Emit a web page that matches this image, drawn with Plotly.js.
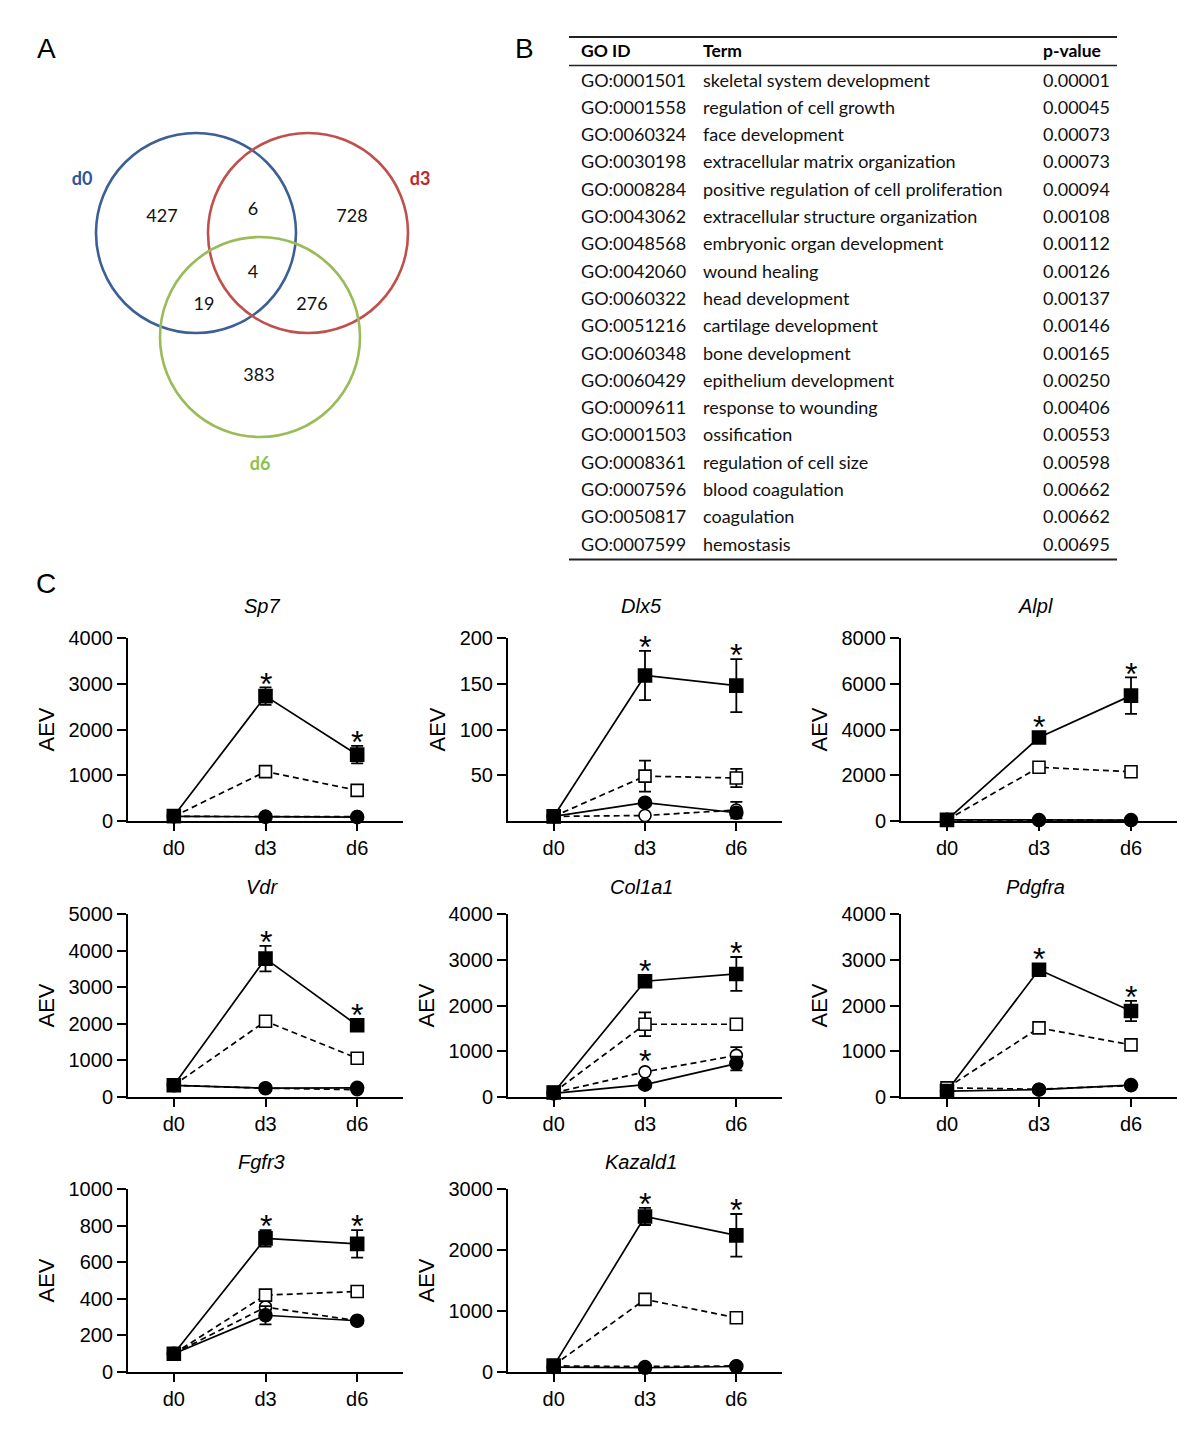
<!DOCTYPE html>
<html><head><meta charset="utf-8">
<script src="https://cdn.plot.ly/plotly-3.0.1.min.js"></script>
<style>html,body{margin:0;padding:0;background:#fff}#chart{width:1200px;height:1433px}</style>
</head><body><div id="chart"></div>
<script>
// ---------- Panel A: Venn data ----------
const vennSets = ['d0', 'd3', 'd6'];
const vennRegions = ['d0 only', 'd0&d3', 'd3 only', 'd0&d6', 'all', 'd3&d6', 'd6 only'];
const vennCounts = [427, 6, 728, 19, 4, 276, 383];

// ---------- Panel B: GO table ----------
const goHeader = ['GO ID', 'Term', 'p-value'];
const goIds = ['GO:0001501','GO:0001558','GO:0060324','GO:0030198','GO:0008284','GO:0043062','GO:0048568','GO:0042060','GO:0060322','GO:0051216','GO:0060348','GO:0060429','GO:0009611','GO:0001503','GO:0008361','GO:0007596','GO:0050817','GO:0007599'];
const goTerms = ['skeletal system development','regulation of cell growth','face development','extracellular matrix organization','positive regulation of cell proliferation','extracellular structure organization','embryonic organ development','wound healing','head development','cartilage development','bone development','epithelium development','response to wounding','ossification','regulation of cell size','blood coagulation','coagulation','hemostasis'];
const goPvalues = ['0.00001','0.00045','0.00073','0.00073','0.00094','0.00108','0.00112','0.00126','0.00137','0.00146','0.00165','0.00250','0.00406','0.00553','0.00598','0.00662','0.00662','0.00695'];

// ---------- Panel C: expression data ----------
const days = ['d0', 'd3', 'd6'];
const genes = ['Sp7', 'Dlx5', 'Alpl', 'Vdr', 'Col1a1', 'Pdgfra', 'Fgfr3', 'Kazald1'];
// series order: filled square (solid), open square (dashed), filled circle (solid), open circle (dashed)
const sp7Mean = [[110,2730,1450],[100,1080,670],[100,90,85],[100,100,95]];
const sp7Err  = [[30,190,190],[0,60,40],[0,0,0],[0,0,0]];
const sp7Sig  = [[0,1,1],[0,0,0],[0,0,0],[0,0,0]];
const sp7Ticks = [0,1000,2000,3000,4000];

const dlx5Mean = [[5,159,148],[5,49,47],[5,20,9],[5,6,12]];
const dlx5Err  = [[0,27,29],[0,17,10],[0,2,2],[0,1,9]];
const dlx5Sig  = [[0,1,1],[0,0,0],[0,0,0],[0,0,0]];
const dlx5Ticks = [50,100,150,200];

const alplMean = [[50,3650,5480],[50,2350,2150],[50,40,40],[50,30,30]];
const alplErr  = [[0,150,800],[0,100,80],[0,0,0],[0,0,0]];
const alplSig  = [[0,1,1],[0,0,0],[0,0,0],[0,0,0]];
const alplTicks = [0,2000,4000,6000,8000];

const vdrMean = [[320,3780,1960],[320,2070,1060],[320,240,250],[320,240,200]];
const vdrErr  = [[0,350,150],[0,80,60],[0,0,0],[0,0,0]];
const vdrSig  = [[0,1,1],[0,0,0],[0,0,0],[0,0,0]];
const vdrTicks = [0,1000,2000,3000,4000,5000];

const col1a1Mean = [[100,2530,2690],[100,1590,1590],[80,270,730],[90,550,910]];
const col1a1Err  = [[0,80,370],[0,260,50],[0,30,150],[0,40,180]];
const col1a1Sig  = [[0,1,1],[0,0,0],[0,0,0],[0,1,0]];
const col1a1Ticks = [0,1000,2000,3000,4000];

const pdgfraMean = [[130,2780,1880],[200,1510,1140],[130,160,260],[200,170,250]];
const pdgfraErr  = [[0,80,220],[0,60,50],[0,0,0],[0,0,0]];
const pdgfraSig  = [[0,1,1],[0,0,0],[0,0,0],[0,0,0]];
const pdgfraTicks = [0,1000,2000,3000,4000];

const fgfr3Mean = [[100,730,700],[100,420,440],[100,310,280],[100,355,280]];
const fgfr3Err  = [[0,45,75],[0,15,30],[0,50,10],[0,15,10]];
const fgfr3Sig  = [[0,1,1],[0,0,0],[0,0,0],[0,0,0]];
const fgfr3Ticks = [0,200,400,600,800,1000];

const kazald1Mean = [[100,2550,2240],[110,1190,890],[80,70,90],[100,90,100]];
const kazald1Err  = [[0,140,350],[0,40,40],[0,0,0],[0,0,0]];
const kazald1Sig  = [[0,1,1],[0,0,0],[0,0,0],[0,0,0]];
const kazald1Ticks = [0,1000,2000,3000];

const allMeans = [sp7Mean, dlx5Mean, alplMean, vdrMean, col1a1Mean, pdgfraMean, fgfr3Mean, kazald1Mean];
const allErrs  = [sp7Err, dlx5Err, alplErr, vdrErr, col1a1Err, pdgfraErr, fgfr3Err, kazald1Err];
const allSigs  = [sp7Sig, dlx5Sig, alplSig, vdrSig, col1a1Sig, pdgfraSig, fgfr3Sig, kazald1Sig];
const allTicks = [sp7Ticks, dlx5Ticks, alplTicks, vdrTicks, col1a1Ticks, pdgfraTicks, fgfr3Ticks, kazald1Ticks];

// ---------- Layout helpers ----------
const W = 1200, H = 1433;
const PX = x => x / W;
const PY = y => 1 - y / H;
const FONT = 'Liberation Sans, Arial, sans-serif';
const CAL = 'Lato, Carlito, sans-serif';

const colPx = [[128,403],[508,782],[901,1177]];
const rowPx = [[638,821],[914,1097],[1189,1372]];
const titleGap = [32, 27, 27];

const seriesStyle = [
  {symbol:'square', fill:'#000', dash:'solid', size:13},
  {symbol:'square', fill:'#fff', dash:'6px,4px', size:12},
  {symbol:'circle', fill:'#000', dash:'solid', size:13},
  {symbol:'circle', fill:'#fff', dash:'6px,4px', size:12}
];
const drawOrder = [3,2,1,0];

const traces = [];
const layout = {
  width: W, height: H,
  margin: {l:0, r:0, t:0, b:0},
  paper_bgcolor: '#fff', plot_bgcolor: 'rgba(0,0,0,0)',
  showlegend: false,
  font: {family: FONT, color: '#000'},
  shapes: [], annotations: []
};

const STAR = 32;
genes.forEach((g, k) => {
  const id = k + 1;
  const xs = id === 1 ? 'x' : 'x' + id;
  const ys = id === 1 ? 'y' : 'y' + id;
  const col = colPx[k % 3], rIdx = Math.floor(k / 3), row = rowPx[rIdx];
  const ticks = allTicks[k];
  const yTop = ticks[ticks.length - 1];
  const pxPerUnit = (row[1] - row[0]) / yTop;
  layout['xaxis' + (id === 1 ? '' : id)] = {
    domain: [PX(col[0]), PX(col[1])], anchor: ys,
    range: [-0.5, 2.5], tickmode: 'array', tickvals: [0,1,2], ticktext: days,
    showline: true, linewidth: 2, linecolor: '#000', ticks: 'outside', ticklen: 8, tickwidth: 2, tickcolor: '#000',
    showgrid: false, zeroline: false, tickfont: {family: FONT, size: 20, color: '#000'}, fixedrange: true
  };
  layout['yaxis' + (id === 1 ? '' : id)] = {
    domain: [PY(row[1]), PY(row[0])], anchor: xs,
    range: [0, yTop], tickmode: 'array', tickvals: ticks, ticktext: ticks.map(String),
    showline: true, linewidth: 2, linecolor: '#000', ticks: 'outside', ticklen: 9, tickwidth: 2, tickcolor: '#000',
    showgrid: false, zeroline: false, tickfont: {family: FONT, size: 20, color: '#000'}, fixedrange: true,
    title: {text: 'AEV', font: {family: FONT, size: 22, color: '#000'}, standoff: 8}
  };
  drawOrder.forEach(s => {
    const st = seriesStyle[s];
    traces.push({
      type: 'scatter', mode: 'lines+markers', xaxis: xs, yaxis: ys,
      x: [0,1,2], y: allMeans[k][s], cliponaxis: false,
      line: {color: '#000', width: 1.7, dash: st.dash},
      marker: {symbol: st.symbol, size: st.size, color: st.fill, line: {color: '#000', width: 1.6}},
      error_y: {type: 'data', array: allErrs[k][s], visible: true, color: '#000', thickness: 1.8, width: 6},
      hoverinfo: 'skip'
    });
  });
  // significance asterisks, placed just above the error bar (or the marker if the bar is hidden)
  allSigs[k].forEach((sigRow, s) => sigRow.forEach((flag, i) => {
    if (!flag) return;
    const errPx = allErrs[k][s][i] * pxPerUnit;
    const extra = Math.max(0, 7 - errPx);
    layout.annotations.push({
      xref: xs, yref: ys, x: i, y: allMeans[k][s][i] + allErrs[k][s][i],
      text: '*', showarrow: false, yanchor: 'bottom', yshift: 10 + extra - (0.79 * STAR + 1),
      font: {family: FONT, size: STAR, color: '#000'}
    });
  }));
  // gene title
  layout.annotations.push({
    xref: 'paper', yref: 'paper', x: PX((col[0] + col[1]) / 2 - 4), y: PY(row[0] - titleGap[rIdx]),
    text: '<i>' + g + '</i>', showarrow: false, xanchor: 'center', yanchor: 'middle',
    font: {family: FONT, size: 20, color: '#000'}
  });
});

// ---------- Venn (panel A) on its own pixel-unit axis ----------
layout.xaxis9 = {domain: [0, PX(500)], range: [0, 500], visible: false, fixedrange: true, anchor: 'y9'};
layout.yaxis9 = {domain: [PY(500), PY(100)], range: [500, 100], visible: false, fixedrange: true, anchor: 'x9'};
const vennCircles = [
  {cx: 196, cy: 233, r: 100, color: '#3C6096'},
  {cx: 308, cy: 233, r: 100, color: '#C0504D'},
  {cx: 260, cy: 337, r: 100, color: '#9BBB59'}
];
vennCircles.forEach(c => layout.shapes.push({
  type: 'circle', xref: 'x9', yref: 'y9', x0: c.cx - c.r, x1: c.cx + c.r, y0: c.cy - c.r, y1: c.cy + c.r,
  line: {color: c.color, width: 2.6}, fillcolor: 'rgba(0,0,0,0)'
}));
const vennRegionX = [162, 253, 352, 204, 253, 312, 259];
const vennRegionY = [217, 210, 217, 305, 273, 305, 376];
traces.push({
  type: 'scatter', mode: 'text', xaxis: 'x9', yaxis: 'y9',
  x: vennRegionX, y: vennRegionY, text: vennCounts.map(String), textposition: 'middle center',
  textfont: {family: CAL, size: 18, color: '#111'}, cliponaxis: false, hoverinfo: 'skip'
});
const vennLabelColors = ['#2B5797', '#C0262C', '#8DC248'];
traces.push({
  type: 'scatter', mode: 'text', xaxis: 'x9', yaxis: 'y9',
  x: [82, 420, 260], y: [180, 180, 465], text: vennSets.map(s => '<b>' + s + '</b>'), textposition: 'middle center',
  textfont: {family: CAL, size: 18, color: vennLabelColors}, cliponaxis: false, hoverinfo: 'skip'
});

// ---------- Table (panel B) ----------
const colX = [579, 701, 1041];
const rowY0 = 79.5, rowDy = 27.3;
goHeader.forEach((h, j) => layout.annotations.push({
  xref: 'paper', yref: 'paper', x: PX(colX[j]), y: PY(50.5), xanchor: 'left', yanchor: 'middle',
  text: '<b>' + h + '</b>', showarrow: false, font: {family: CAL, size: 17.5, color: '#000'}
}));
goIds.forEach((id, i) => {
  const y = PY(rowY0 + i * rowDy);
  [id, goTerms[i], goPvalues[i]].forEach((t, j) => layout.annotations.push({
    xref: 'paper', yref: 'paper', x: PX(colX[j]), y: y, xanchor: 'left', yanchor: 'middle',
    text: t, showarrow: false, font: {family: CAL, size: 18, color: '#111'}
  }));
});
[[37, 1.8], [65.5, 1.6], [559.5, 2.2]].forEach(([y, w]) => layout.shapes.push({
  type: 'line', xref: 'paper', yref: 'paper', x0: PX(569), x1: PX(1117), y0: PY(y), y1: PY(y),
  line: {color: '#222', width: w}
}));

// ---------- Panel letters ----------
[['A', 46, 48], ['B', 524, 48], ['C', 46, 583]].forEach(([t, x, y]) => layout.annotations.push({
  xref: 'paper', yref: 'paper', x: PX(x), y: PY(y), xanchor: 'center', yanchor: 'middle',
  text: t, showarrow: false, font: {family: FONT, size: 28, color: '#000'}
}));

Plotly.newPlot('chart', traces, layout, {staticPlot: true, displayModeBar: false});
</script>
</body></html>
